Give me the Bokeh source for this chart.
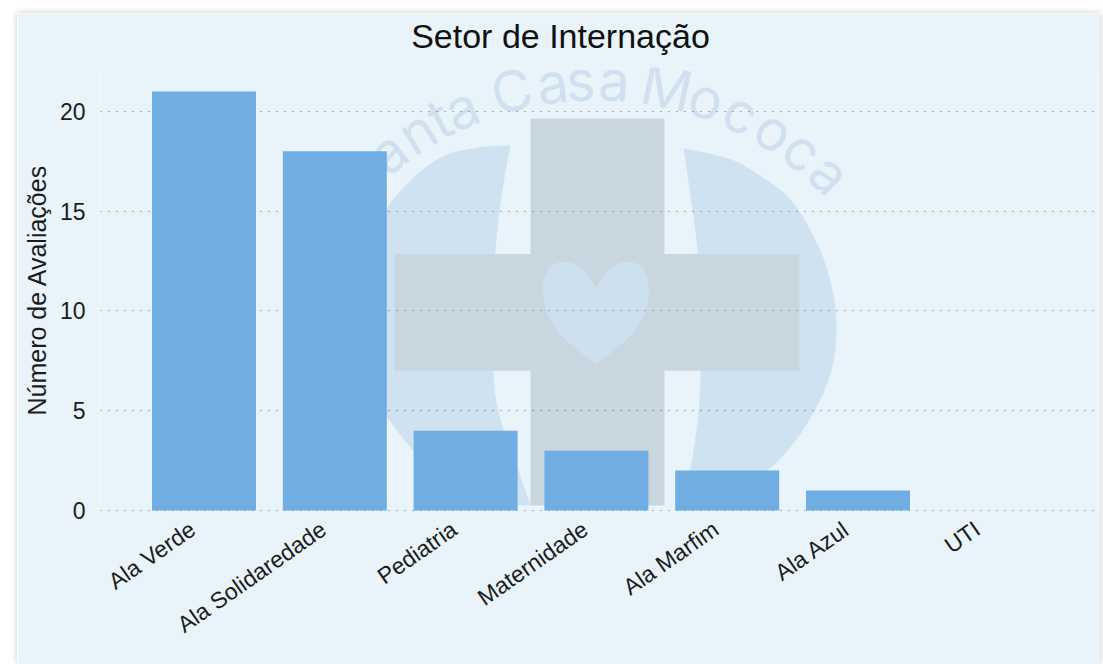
import math
from bokeh.plotting import figure
from bokeh.models import Range1d, FixedTicker, ColumnDataSource, LinearAxis
from bokeh.embed import file_html
from bokeh.resources import INLINE
from bokeh.core.properties import value

categories = ["Ala Verde", "Ala Solidaredade", "Pediatria", "Maternidade", "Ala Marfim", "Ala Azul", "UTI"]
avaliacoes = [21, 18, 4, 3, 2, 1, 0]
y_ticks = [0, 5, 10, 15, 20]
title_text = "Setor de Internação"
y_title = "Número de Avaliações"

PANEL = "#e8f4f9"
FONT = "Liberation Sans"
INK = "#1c1c1c"

# watermark outlines (decorative background logo, in picture pixels)
lobe_l_outer = [(510, 144), (480, 146), (447, 153), (420, 170), (400, 190), (387, 207), (370, 245), (358, 300), (358, 360), (372, 400), (387, 417), (413, 450), (450, 480), (500, 502), (530, 505)]
lobe_l_inner = [(530, 505), (518, 470), (507, 440), (497, 407), (493, 372), (492, 310), (495, 250), (501, 195), (510, 144)]
lobe_r_outer = [(683, 147), (730, 158), (765, 178), (793, 202), (818, 245), (831, 285), (836, 320), (834, 355), (826, 385), (813, 412), (795, 440), (770, 467), (730, 490), (680, 505)]
lobe_r_inner = [(680, 505), (684, 485), (690, 467), (697, 420), (700, 372), (700, 310), (697, 250), (690, 195), (683, 147)]
heart_l = [(595, 363), (572, 345), (557, 330), (547, 313), (543, 295), (544, 277), (551, 265), (562, 261), (574, 263), (584, 270), (591, 279), (595, 288)]
heart_r = [(595, 288), (600, 279), (607, 270), (617, 263), (629, 261), (640, 265), (647, 277), (648, 295), (644, 313), (634, 330), (619, 345), (595, 363)]
wm_letters = list("SantaCasaMococa")
wm_angles = [-44, -38, -32, -27.6, -23.5, -14.5, -7.5, -2.7, 3, 12, 19, 25.3, 31.7, 37.6, 43.7]
WM_CX, WM_CY, WM_R = 596, 417, 338
TITLE_X = 560


def smooth(pts, n=8):
    """Catmull-Rom curve through the outline points."""
    out = []
    for i in range(len(pts) - 1):
        p0 = pts[max(i - 1, 0)]
        p1, p2 = pts[i], pts[i + 1]
        p3 = pts[min(i + 2, len(pts) - 1)]
        for k in range(n):
            t = k / n
            out.append(tuple(
                0.5 * (2 * p1[d] + (p2[d] - p0[d]) * t + (2 * p0[d] - 5 * p1[d] + 4 * p2[d] - p3[d]) * t ** 2
                       + (3 * p1[d] - p0[d] - 3 * p2[d] + p3[d]) * t ** 3)
                for d in (0, 1)))
    out.append(pts[-1])
    return out


def outline(*parts):
    pts = [q for part in parts for q in smooth(part)]
    return [q[0] for q in pts], [q[1] for q in pts]


p = figure(width=1083, height=651, output_backend="svg", toolbar_location=None,
           x_range=Range1d(-103.5 / 130.8, 893.5 / 130.8), y_range=Range1d(-0.1, 22.2),
           min_border_left=83, min_border_right=3, min_border_top=53, min_border_bottom=152,
           background_fill_color=PANEL, border_fill_color=PANEL, outline_line_color=None)
p.margin = (13, 3, 0, 17)
p.styles = {"box-shadow": "0 0 6px rgba(0,0,0,0.22)"}

p.extra_x_ranges["px"] = Range1d(100, 1097)
p.extra_y_ranges["px"] = Range1d(512, 66)

title_axis = LinearAxis(x_range_name="px", ticker=FixedTicker(ticks=[TITLE_X]),
                        major_label_overrides={TITLE_X: title_text},
                        axis_line_color=None, major_tick_line_color=None, minor_tick_line_color=None,
                        major_label_text_font=FONT, major_label_text_font_size="34px",
                        major_label_text_color="#111111", major_label_standoff=7)
p.add_layout(title_axis, "above")

wm = dict(x_range_name="px", y_range_name="px", level="image")
lx, ly = outline(lobe_l_outer, lobe_l_inner)
rx, ry = outline(lobe_r_outer, lobe_r_inner)
hx, hy = outline(heart_l, heart_r)
p.patch(lx, ly, fill_color="#cfe2f1", line_color=None, **wm)
p.patch(rx, ry, fill_color="#cfe2f1", line_color=None, **wm)
p.quad(left=[530], right=[664], top=[117], bottom=[505], fill_color="#c8d6df", line_color=None, **wm)
p.quad(left=[394], right=[799], top=[253], bottom=[370], fill_color="#c8d6df", line_color=None, **wm)
p.patch(hx, hy, fill_color="#cde0f0", line_color=None, **wm)
p.text(x=[WM_CX + WM_R * math.sin(math.radians(a)) for a in wm_angles],
       y=[WM_CY - WM_R * math.cos(math.radians(a)) for a in wm_angles],
       text=wm_letters, angle=[-math.radians(a) for a in wm_angles],
       text_align="center", text_baseline="middle", text_color="#cfe1f0",
       text_font=value("Inter"), text_font_size="56px", **wm)

src = ColumnDataSource(dict(x=list(range(len(categories))), top=avaliacoes))
p.vbar(x="x", top="top", bottom=0, width=0.795, source=src, fill_color="#70ade2", line_color=None)

label_shift = 0.087
tick_pos = [i - label_shift for i in range(len(categories))]
xax = p.below[0]
yax = p.left[0]
xax.ticker = FixedTicker(ticks=tick_pos)
xax.major_label_overrides = dict(zip(tick_pos, categories))
xax.major_label_orientation = math.radians(35)
yax.ticker = FixedTicker(ticks=y_ticks)
yax.axis_label = y_title

for ax in (xax, yax):
    ax.axis_line_color = None
    ax.major_tick_line_color = None
    ax.minor_tick_line_color = None
    ax.major_label_text_font = FONT
    ax.major_label_text_font_size = "23px"
    ax.major_label_text_color = INK
xax.major_label_standoff = 8
yax.major_label_standoff = 9
yax.axis_label_text_font = FONT
yax.axis_label_text_font_size = "25px"
yax.axis_label_text_font_style = "normal"
yax.axis_label_text_color = INK
yax.axis_label_standoff = 6

p.xgrid.visible = False
p.ygrid.ticker = FixedTicker(ticks=y_ticks)
p.ygrid.grid_line_color = "#333333"
p.ygrid.grid_line_alpha = 0.75
p.ygrid.grid_line_dash = "1 7"
p.ygrid.grid_line_width = 1.2

open("out.html", "w").write(file_html(p, INLINE))
